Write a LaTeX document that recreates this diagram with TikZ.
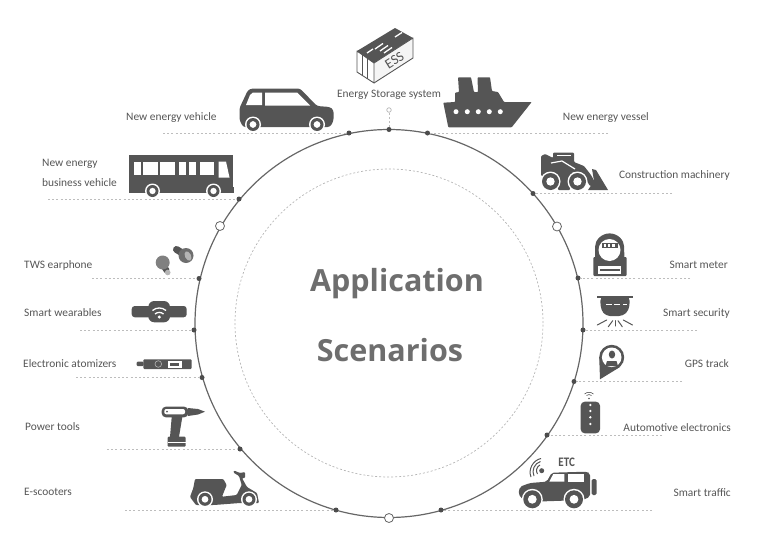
\documentclass[tikz,border=0pt]{standalone}
\usepackage{fontspec}
\setmainfont{Carlito}
\newfontfamily\titlefont{Open Sans}
\usetikzlibrary{positioning}
\definecolor{ink}{HTML}{555555}
\definecolor{ringgray}{HTML}{666666}
\definecolor{leadgray}{HTML}{BDBDBD}
\definecolor{softgray}{HTML}{B5B5B5}
\newcommand{\tyre}[3]{
  \fill[white] (#1,#2) circle (#3);
  \fill[ink] (#1,#2) circle (#3-1.5);
  \fill[white] (#1,#2) circle (#3*0.42);
}
\begin{document}
\begin{tikzpicture}[x=1pt, y=-1pt, font=\fontsize{11.4}{13}\selectfont, text=ink,
    dot/.style={circle, fill=ink!90!black, inner sep=0pt, minimum size=5pt},
    hole/.style={circle, draw=ringgray, fill=white, line width=0.8pt, inner sep=0pt, minimum size=9pt},
    leader/.style={draw=leadgray, line width=0.8pt, dash pattern=on 2pt off 2.2pt},
    heading/.style={font=\titlefont\bfseries\fontsize{30.5}{36}\selectfont, text=ink!85!white, anchor=base},
    tag/.style={inner sep=0pt, yshift=-1pt},
    ray/.style={draw=ink, line width=1pt, line cap=round}]
  \useasboundingbox (0,0) rectangle (769,557);

  \node (ring) at (389,323.5) [circle, draw=ringgray, line width=1.2pt, inner sep=0pt, outer sep=0pt, minimum size=388pt] {};
  \node (core) at (389,323) [circle, draw=softgray, line width=0.7pt, dash pattern=on 2pt off 2pt, inner sep=0pt, minimum size=308pt] {};
  \node (appl) at (397,291) [heading] {Application};
  \node (scen) at (390,361) [heading] {Scenarios};

  \node (dtop) at (389,129.5) [dot] {};
  \node (dnev) at (349,133) [dot] {};
  \node (dbus) at (239,199) [dot] {};
  \node (dtws) at (199,278.5) [dot] {};
  \node (dwear) at (194,330) [dot] {};
  \node (datom) at (202,377.5) [dot] {};
  \node (dtool) at (240,449) [dot] {};
  \node (dscoot) at (336,510) [dot] {};
  \node (dship) at (427.5,133) [dot] {};
  \node (dload) at (533,193.5) [dot] {};
  \node (dmeter) at (578,278) [dot] {};
  \node (dsec) at (583,330) [dot] {};
  \node (dgps) at (574,381.5) [dot] {};
  \node (dauto) at (547,435) [dot] {};
  \node (djeep) at (441,510) [dot] {};
  \node (hleft) at (220,226) [hole] {};
  \node (hright) at (557,226.5) [hole] {};
  \node (hlow) at (389,518) [hole] {};
  \node (htop) at (389,110) [circle, draw=softgray, line width=0.7pt, fill=white, inner sep=0pt, minimum size=4.5pt] {};

  \coordinate (enev) at (163,133);
  \coordinate (ebus) at (48,199);
  \coordinate (etws) at (92,278.5);
  \coordinate (ewear) at (80,330);
  \coordinate (eatom) at (76,377.5);
  \coordinate (etool) at (107,449);
  \coordinate (escoot) at (125,510);
  \coordinate (eship) at (608,133);
  \coordinate (eload) at (672,193.5);
  \coordinate (emeter) at (690,278);
  \coordinate (esec) at (697,330);
  \coordinate (egps) at (682,381.5);
  \coordinate (eauto) at (662,435);
  \coordinate (ejeep) at (652,510);
  \draw[leader] (htop)--(dtop);
  \draw[leader] (enev)--(dnev); \draw[leader] (ebus)--(dbus);
  \draw[leader] (etws)--(dtws); \draw[leader] (ewear)--(dwear);
  \draw[leader] (eatom)--(datom); \draw[leader] (etool)--(dtool);
  \draw[leader] (escoot)--(dscoot); \draw[leader] (eship)--(dship);
  \draw[leader] (eload)--(dload); \draw[leader] (emeter)--(dmeter);
  \draw[leader] (esec)--(dsec); \draw[leader] (egps)--(dgps);
  \draw[leader] (eauto)--(dauto); \draw[leader] (ejeep)--(djeep);

  \node (lnev) at (126,117) [tag, anchor=west] {New energy vehicle};
  \node (lbus) at (42,172) [tag, anchor=west, align=left, font=\fontsize{11.4}{20}\selectfont] {New energy\\business vehicle};
  \node (ltws) at (24,264) [tag, anchor=west] {TWS earphone};
  \node (lwear) at (24,312) [tag, anchor=west] {Smart wearables};
  \node (latom) at (23,363) [tag, anchor=west] {Electronic atomizers};
  \node (ltool) at (25,426) [tag, anchor=west] {Power tools};
  \node (lscoot) at (24,491) [tag, anchor=west] {E-scooters};
  \node (less) at (389,94) [tag] {Energy Storage system};
  \node (lship) at (649,117) [tag, anchor=east] {New energy vessel};
  \node (lload) at (730,174) [tag, anchor=east] {Construction machinery};
  \node (lmeter) at (728,264) [tag, anchor=east] {Smart meter};
  \node (lsec) at (730,312) [tag, anchor=east] {Smart security};
  \node (lgps) at (729,363) [tag, anchor=east] {GPS track};
  \node (lauto) at (731,427) [tag, anchor=east] {Automotive electronics};
  \node (ljeep) at (731,492) [tag, anchor=east] {Smart traffic};

  % car
  \fill[ink, rounded corners=2.5pt] (243,127)--(239.5,120)--(239.5,108)--(248,90)--(252,88.5)--(300,88.5)--(317,106)--(330,107)--(333.5,110)--(333.5,121)--(330,127)--cycle;
  \fill[white] (246,105)--(250,95)--(253,92.5)--(262,92.5)--(262,105)--cycle;
  \fill[white] (265,92.5)--(297,92.5)--(310,105.5)--(265,105.5)--cycle;
  \tyre{253}{124.5}{8}
  \tyre{317}{124.5}{8}

  % bus
  \fill[ink] (129,154.5) rectangle (233,192.5);
  \fill[ink] (128.5,187) rectangle (234,192.5);
  \fill[white] (133.5,161.5) rectangle (140.5,175);
  \fill[white] (143,161.5) rectangle (158,175);
  \fill[white] (160,161.5) rectangle (175,175);
  \fill[white] (178.5,161.5) rectangle (186,175);
  \fill[white] (188.5,161.5) rectangle (196,175);
  \fill[white] (199.5,161.5) rectangle (213.5,175);
  \fill[white] (218.5,161.5)--(226,161.5)--(229.5,177.5)--(218.5,177.5)--cycle;
  \tyre{152.5}{191}{7.5}
  \tyre{213.5}{191}{7.5}

  % ess container
  \fill[ink] (357,51)--(395,28)--(413,38)--(374,63)--cycle;
  \fill[gray!8] (374,63)--(413,38)--(413,58)--(374,83)--cycle;
  \draw[ink, line width=0.9pt, line join=round] (357,51)--(374,63)--(374,83)--(357,72)--cycle;
  \draw[ink, line width=0.9pt, line join=round] (374,63)--(413,38)--(413,58)--(374,83);
  \draw[ink, line width=0.9pt] (362,54.5)--(362,75.5);
  \draw[ink, line width=0.9pt] (367,58)--(367,78.5);
  \draw[white, line width=1.3pt] (367,53)--(373,49);
  \draw[white, line width=1.3pt] (375,49)--(383,43.5);
  \draw[white, line width=1.3pt] (380,51)--(388,45.5);
  \draw[white, line width=1.3pt] (384,53)--(392,47.5);
  \draw[white, line width=1.3pt] (395,37)--(402,32.5);
  \node (ess) at (394.5,60.5) [rotate=32, font=\fontsize{14}{14}\selectfont, inner sep=0pt, text=ink] {ESS};

  % ship
  \fill[ink, rounded corners=0.7pt] (443.3,102.7)--(455,102)--(455,92.7)--(459,92)--(458,77.3)--(471,77.3)--(474,92)--(478,92)--(477.5,77.3)--(490,77.3)--(492,91)--(498,92)--(504,102)--(531.7,102)--(511.7,127.3)--(448.3,127.3)--cycle;
  \fill[white] (456,111.7) circle (2.5);
  \fill[white] (467.3,111.7) circle (2.5);
  \fill[white] (478.3,111.7) circle (2.5);
  \fill[white] (489.3,111.7) circle (2.5);
  \fill[white] (500.3,111.7) circle (2.5);

  % loader
  \fill[ink, rounded corners=1pt] (541,156)--(545,154)--(553,158)--(553,152.7)--(574,152.7)--(574,162)--(584,166)--(591,175)--(597,186)--(590,186)--(583,175)--(572,172)--(570,190)--(558,190)--(556,176)--(541,176)--cycle;
  \fill[ink] (592,169)--(596,170)--(608,190)--(588,190)--(594,181)--cycle;
  \draw[white, line width=1.2pt] (551,163)--(562,161)--(575,169);
  \draw[white, line width=1pt] (557,155.5)--(571,155.5);
  \tyre{550.5}{181.5}{10}
  \tyre{577.5}{181.5}{10}

  % meter
  \fill[ink, rounded corners=1pt] (595,258)--(595,248) arc[start angle=180, end angle=0, radius=14.6pt] --(624.3,258)--cycle;
  \fill[ink, rounded corners=1pt] (593.3,257) rectangle (626.7,276);
  \fill[white] (609.5,250) circle (11);
  \fill[ink] (601.5,242.5) rectangle (617.5,248);
  \fill[white] (604,244) rectangle (606,246.5);
  \fill[white] (608,244) rectangle (610,246.5);
  \fill[white] (612,244) rectangle (614.5,246.5);
  \fill[white] (598.3,265.7) rectangle (621,274);
  \fill[ink] (600,268.5) rectangle (619.5,270.5);

  % security
  \fill[ink] (597.3,295.5) rectangle (633.3,297.5);
  \fill[ink, rounded corners=4pt] (600,297)--(601,310)--(606,316)--(623,316)--(629,310)--(630,297)--cycle;
  \fill[white] (606,303.5) rectangle (612,305);
  \fill[white] (614,303.5) rectangle (620,305);
  \fill[white] (622.5,303.5) rectangle (627,305);
  \draw[ray] (606.7,320)--(597.3,325);
  \draw[ray] (612.7,320.7)--(608.3,326.7);
  \draw[ray] (615,320.7)--(615,326);
  \draw[ray] (618,320.7)--(622.3,326.7);
  \draw[ray] (623.3,320)--(632.5,325);

  % gps pin
  \fill[ink] (611.7,357.3) circle (12.5);
  \fill[ink] (600,379.3)--(599.2,357)--(620,367)--cycle;
  \fill[white] (611.7,357.3) circle (9.8);
  \fill[ink] (612,354.5) ellipse (3.2 and 4);
  \fill[ink] (605.5,366)--(607,361)--(616.5,361)--(618,366)--cycle;

  % remote
  \fill[ink, rounded corners=4pt] (580.7,401.7) rectangle (600,433.3);
  \fill[white] (590.3,405) circle (1.3);
  \fill[white] (590.3,411) circle (1.3);
  \fill[white] (590.3,417.3) circle (1.3);
  \fill[white] (590.3,424) circle (1.3);
  \fill[ink] (589,398.5) circle (0.9);
  \draw[ink, line width=0.6pt] (586.5,395.5) to[bend left=40] (591.5,395.5);
  \draw[ink, line width=0.6pt] (584.5,394) to[bend left=40] (593.5,394);

  % jeep
  \node (etc) at (566.7,462.5) [font=\fontsize{13}{13}\bfseries\selectfont, inner sep=0pt, xscale=0.85] {ETC};
  \fill[ink] (541.7,470.7) circle (2.5);
  \draw[ink, line width=1pt] (537.5,474) to[bend left=50] (540,465);
  \draw[ink, line width=1pt] (534,476) to[bend left=50] (540.5,461.5);
  \draw[ink, line width=1pt] (531,477) to[bend left=50] (541,458.5);
  \fill[ink, rounded corners=2pt] (518.3,494)--(520,486.7)--(530,483)--(546.7,481.7)--(551.7,472.7)--(586.7,471.7)--(590,473.3)--(590,496.7)--(583,500)--(525,502)--cycle;
  \fill[white] (549.3,481.7)--(553.3,474)--(564.3,474)--(564.3,481.7)--cycle;
  \fill[white] (568.3,474)--(584,474)--(584,481.7)--(568.3,481.7)--cycle;
  \fill[ink, rounded corners=1.5pt] (591.7,479) rectangle (596.7,495);
  \tyre{532.3}{499.3}{10.5}
  \tyre{574}{499.3}{10.5}

  % scooter
  \fill[ink, rounded corners=1pt] (195,479)--(223.3,479)--(226.7,485)--(222,496.7)--(236.7,495)--(241.7,485)--(239,476)--(233.3,472.5)--(234,470.5)--(240,473)--(245,472)--(245,478)--(242,478)--(247,487)--(257,493)--(259,503)--(240,503)--(214,505)--(196,505)--(190,497)--(193.3,488)--cycle;
  \tyre{205}{499.3}{8}
  \tyre{249}{499.3}{8}

  % earphones
  \draw[ink, line width=7pt, line cap=round] (176.5,249.5)--(184,254);
  \fill[ink!85!white] (186,255.5) circle (7.5);
  \fill[softgray, rotate around={25:(188,256)}] (188,256) ellipse (3 and 5);
  \draw[ink, line width=6pt] (163,265)--(167,271);
  \fill[ink!75!white] (162.7,262.5) circle (7);
  \fill[softgray] (167.7,272.5) circle (2.8);

  % wearable
  \fill[ink, rounded corners=3pt] (131.7,306) rectangle (186.7,317.3);
  \fill[ink, rounded corners=6pt] (148.3,301) rectangle (170,322.3);
  \fill[white] (159.3,317) circle (1.7);
  \draw[white, line width=1.3pt] (155,314) to[bend left=40] (163.5,314);
  \draw[white, line width=1.3pt] (152.5,310.5) to[bend left=40] (166,310.5);

  % atomizer
  \fill[ink, rounded corners=1pt] (136.7,361.7) rectangle (143.5,366);
  \fill[ink, rounded corners=1pt] (143.3,359.3) rectangle (191.7,369);
  \fill[white] (167.7,361) rectangle (182.3,367.7);
  \fill[ink] (170.3,363) rectangle (179,365.7);
  \draw[softgray, line width=0.6pt] (158.3,364) circle (3.3);

  % drill
  \fill[ink, rounded corners=4pt] (161.7,406.7) rectangle (188.3,417.3);
  \fill[white, rounded corners=2pt] (164.3,409) rectangle (185,414.3);
  \fill[ink] (167,411.5) circle (1);
  \fill[ink] (188,408)--(198,409)--(205,411.7)--(198,414.5)--(188,416)--cycle;
  \fill[ink] (171.7,417)--(182.3,417)--(179,437)--(170,437)--cycle;
  \fill[ink, rounded corners=1pt] (167.7,436.7) rectangle (185.7,446.7);
  \fill[white] (168,441.5) rectangle (185.5,442.7);
\end{tikzpicture}
\end{document}
